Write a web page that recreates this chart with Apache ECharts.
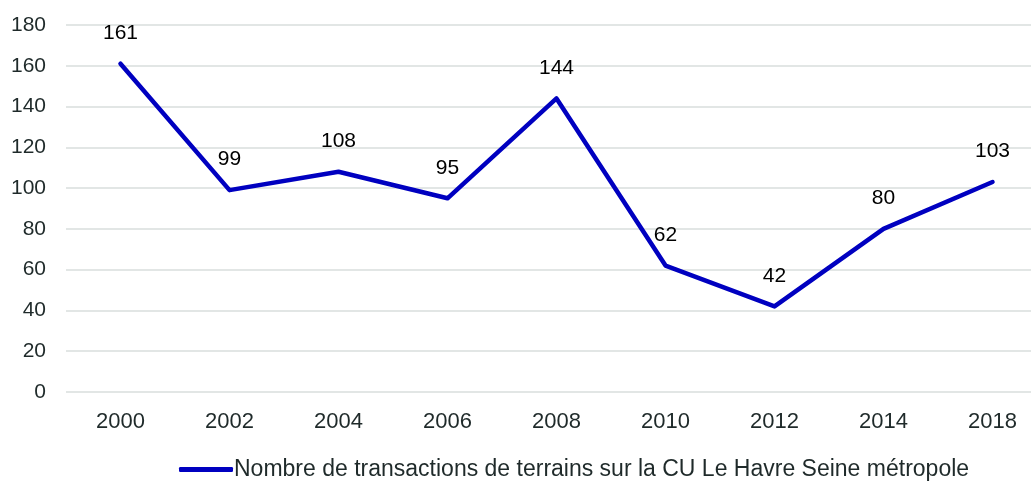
<!DOCTYPE html>
<html>
<head>
<meta charset="utf-8">
<script src="https://cdn.jsdelivr.net/npm/echarts@6/dist/echarts.min.js"></script>
<style>
  html, body { margin: 0; padding: 0; background: #fff; overflow: hidden; }
  #chart { width: 1047px; height: 481px; }
</style>
</head>
<body>
<div id="chart"></div>
<script>
var years = ['2000', '2002', '2004', '2006', '2008', '2010', '2012', '2014', '2018'];
var transactions = [161, 99, 108, 95, 144, 62, 42, 80, 103];
var seriesName = 'Nombre de transactions de terrains sur la CU Le Havre Seine métropole';

// chart is a bit wider than the window: the plot runs past the right edge
var myChart = echarts.init(document.getElementById('chart'));
myChart.setOption({
    backgroundColor: '#ffffff',
    textStyle: { fontFamily: 'Liberation Sans, Arial, sans-serif' },
    grid: { left: 66, right: 0, top: 25, bottom: 89 },
    legend: {
        left: 174,
        top: 453,
        itemWidth: 54,
        itemHeight: 5,
        icon: 'roundRect',
        textStyle: { fontSize: 23, color: '#1f2a2a', padding: [0, 0, 0, -4] },
        data: [seriesName]
    },
    xAxis: {
        type: 'category',
        data: years,
        boundaryGap: true,
        axisLine: { show: false },
        axisTick: { show: false },
        axisLabel: { fontSize: 22, color: '#1f2a2a', margin: 19 }
    },
    yAxis: {
        type: 'value',
        min: 0,
        max: 180,
        interval: 20,
        axisLine: { show: false },
        axisTick: { show: false },
        axisLabel: { fontSize: 21, color: '#1f2a2a', margin: 20 },
        splitLine: { lineStyle: { color: '#d9dedd', width: 1.5 } }
    },
    series: [{
        name: seriesName,
        type: 'line',
        data: transactions,
        symbol: 'circle',
        symbolSize: 0,
        lineStyle: { color: '#0000c0', width: 4.5, cap: 'round', join: 'round' },
        itemStyle: { color: '#0000c0' },
        label: {
            show: true,
            position: 'top',
            distance: 20,
            fontSize: 21,
            color: '#000000'
        }
    }]
});
</script>
</body>
</html>
